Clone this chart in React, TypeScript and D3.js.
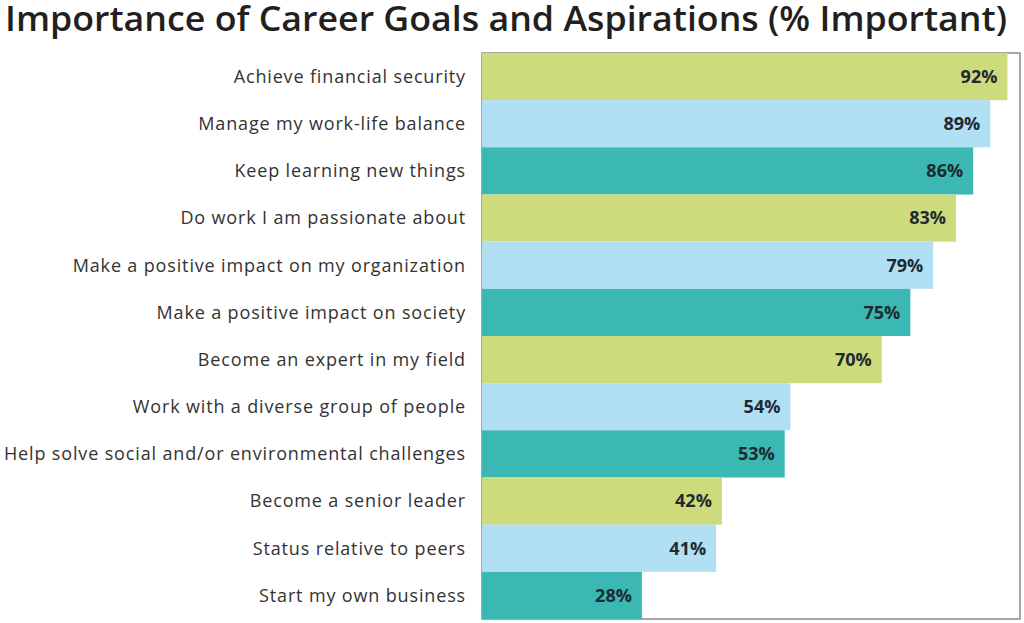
import { useEffect, useRef } from 'react';
import * as d3 from 'd3';

const categories = [
  'Achieve financial security',
  'Manage my work-life balance',
  'Keep learning new things',
  'Do work I am passionate about',
  'Make a positive impact on my organization',
  'Make a positive impact on society',
  'Become an expert in my field',
  'Work with a diverse group of people',
  'Help solve social and/or environmental challenges',
  'Become a senior leader',
  'Status relative to peers',
  'Start my own business',
];
const values = [92, 89, 86, 83, 79, 75, 70, 54, 53, 42, 41, 28];
const palette = ['#cddb7d', '#b1e0f5', '#3bb8b3'];

export default function App() {
  const svgRef = useRef<SVGSVGElement | null>(null);

  useEffect(() => {
    if (!svgRef.current) return;
    document.body.style.margin = '0';
    const svg = d3.select(svgRef.current);
    svg.selectAll('*').remove();

    const margin = { top: 53, right: 4, bottom: 4, left: 482 };
    const width = 1024;
    const height = 623;

    const x = d3.scaleLinear().domain([0, 94.2]).range([margin.left, width - margin.right]);
    const y = d3.scaleBand<string>()
      .domain(categories)
      .range([margin.top, height - margin.bottom])
      .padding(0);

    svg.append('rect').attr('width', width).attr('height', height).attr('fill', '#fff');

    // Title
    svg.append('text')
      .attr('x', 5)
      .attr('y', 31)
      .attr('font-family', '"Open Sans", sans-serif')
      .attr('font-size', 34)
      .attr('font-weight', 600)
      .attr('fill', '#231f20')
      .attr('textLength', 1002)
      .attr('lengthAdjust', 'spacingAndGlyphs')
      .text('Importance of Career Goals and Aspirations (% Important)');

    // Plot frame
    svg.append('rect')
      .attr('x', margin.left)
      .attr('y', margin.top)
      .attr('width', width - margin.right - margin.left)
      .attr('height', height - margin.bottom - margin.top)
      .attr('fill', 'none')
      .attr('stroke', '#8a8a8a')
      .attr('stroke-width', 1.5);

    // Bars
    svg.append('g')
      .selectAll('rect')
      .data(values)
      .join('rect')
      .attr('x', x(0))
      .attr('y', (_, i) => y(categories[i]) as number)
      .attr('width', d => x(d) - x(0))
      .attr('height', y.bandwidth())
      .attr('fill', (_, i) => palette[i % 3]);

    // Value labels
    svg.append('g')
      .selectAll('text')
      .data(values)
      .join('text')
      .attr('x', d => x(d) - 10)
      .attr('y', (_, i) => (y(categories[i]) as number) + y.bandwidth() / 2)
      .attr('dy', '0.35em')
      .attr('text-anchor', 'end')
      .attr('font-family', '"Open Sans", sans-serif')
      .attr('font-size', 18)
      .attr('font-weight', 700)
      .attr('fill', '#1e2a30')
      .text(d => `${d}%`);

    // Category labels
    svg.append('g')
      .selectAll('text')
      .data(categories)
      .join('text')
      .attr('x', 466)
      .attr('y', d => (y(d) as number) + y.bandwidth() / 2)
      .attr('dy', '0.35em')
      .attr('text-anchor', 'end')
      .attr('font-family', '"Open Sans", sans-serif')
      .attr('font-size', 18)
      .attr('letter-spacing', 0.85)
      .attr('fill', '#333')
      .text(d => d);
  }, []);

  return <svg ref={svgRef} width={1024} height={623} style={{ display: 'block' }} />;
}
